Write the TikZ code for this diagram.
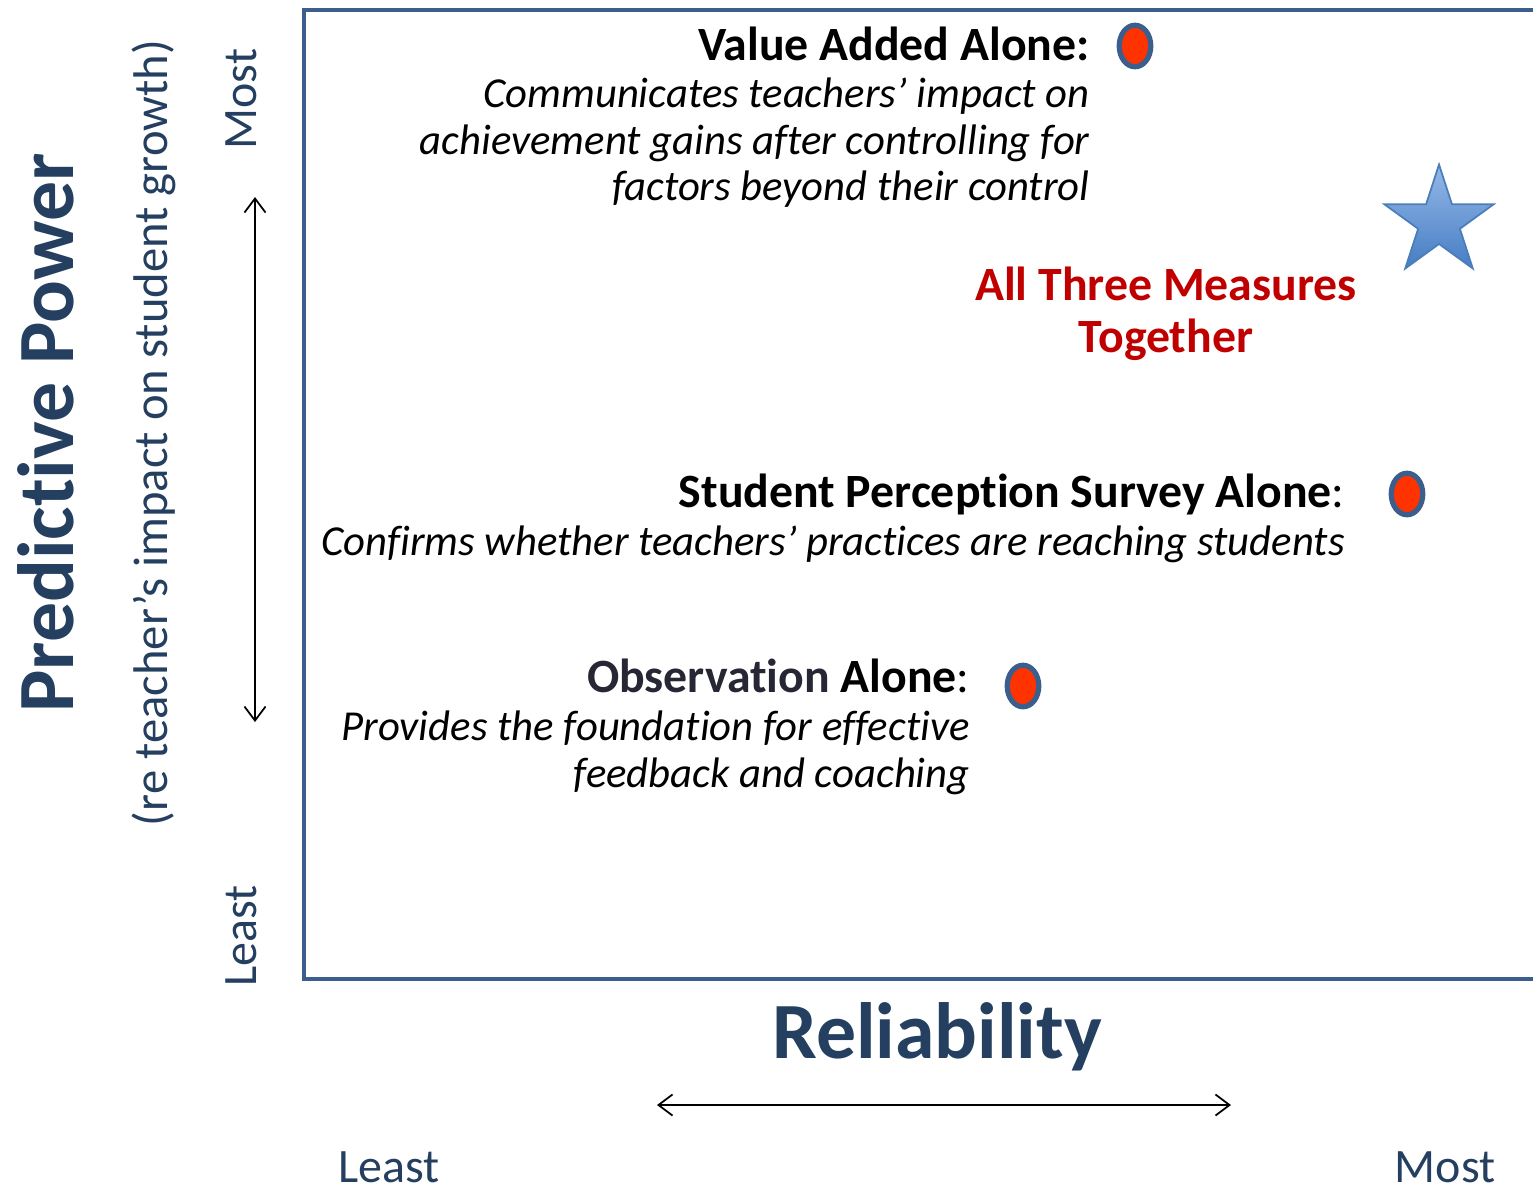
\documentclass[tikz,border=0pt]{standalone}
\usepackage{fontspec}
\setmainfont{Carlito}[Ligatures={TeX,NoCommon}]
\usetikzlibrary{arrows.meta,shapes.geometric}

\definecolor{frameblue}{RGB}{59,94,140}
\definecolor{titleblue}{RGB}{36,63,96}
\definecolor{dotred}{RGB}{255,51,0}
\definecolor{measred}{RGB}{192,0,0}
\definecolor{obsgray}{RGB}{38,38,52}
\definecolor{starline}{RGB}{74,126,187}
\definecolor{startop}{RGB}{149,185,232}
\definecolor{starbot}{RGB}{70,125,195}

\tikzset{
    heading/.style={font=\fontsize{27.2}{32}\selectfont\bfseries, anchor=base east, inner sep=0pt},
    blurb/.style={font=\fontsize{24.3}{29}\selectfont\itshape, anchor=base east, inner sep=0pt},
    reddot/.style={ellipse, draw=frameblue, line width=3pt, fill=dotred,
        minimum width=.63cm, minimum height=.83cm, inner sep=0pt},
    axislabel/.style={font=\fontsize{27.3}{32}\selectfont, text=titleblue, inner sep=0pt},
    axistitle/.style={font=\fontsize{45.4}{54}\selectfont\bfseries, text=titleblue, inner sep=0pt},
    twoway/.style={{Straight Barb[length=8pt,width=12pt]}-{Straight Barb[length=8pt,width=12pt]}, line width=1pt},
}

\begin{document}
\begin{tikzpicture}[x=0.02cm, y=-0.02cm]

    \useasboundingbox (0,0) rectangle (1533,1191);

    % open frame
    \draw[frameblue, line width=2.8pt] (1533,10) -- (304,10) -- (304,979) -- (1533,979);

    % vertical axis
    \node[axistitle, rotate=90] (power) at (46,433) {Predictive Power};
    \node[axislabel, rotate=90, font=\fontsize{27.7}{33}\selectfont] (growth) at (154,433)
        {(re teacher’s impact on student growth)};
    \node[axislabel, rotate=90] (ymost) at (241,99) {Most};
    \node[axislabel, rotate=90] (yleast) at (241,936) {Least};
    \coordinate (ytop) at (255,197);
    \coordinate (ybot) at (255,722);
    \draw[twoway] (ybot) -- (ytop);

    % horizontal axis
    \node[axistitle, anchor=base] (reli) at (937,1058) {Reliability};
    \node[axislabel] (xleast) at (389,1167) {Least};
    \node[axislabel] (xmost) at (1445,1167) {Most};
    \coordinate (xleft) at (657,1105);
    \coordinate (xright) at (1231,1105);
    \draw[twoway] (xleft) -- (xright);

    % value added
    \node[heading] (vahead) at (1090,60) {Value Added Alone:};
    \node[blurb] (va1) at (1090,107) {Communicates teachers’ impact on};
    \node[blurb] (va2) at (1090,154) {achievement gains after controlling for};
    \node[blurb] (va3) at (1090,200) {factors beyond their control};
    \node[reddot] (vadot) at (1135,46) {};

    % all three together
    \node[star, star points=5, star point ratio=2.618, minimum size=2.3cm, inner sep=0pt,
        draw=starline, line width=1pt, top color=startop, bottom color=starbot] (allstar) at (1439,222) {};
    \node[heading, anchor=base, text=measred] (all1) at (1166,300) {All Three Measures};
    \node[heading, anchor=base, text=measred] (all2) at (1166,352) {Together};

    % student survey
    \node[heading] (sphead) at (1345,507) {Student Perception Survey Alone\mdseries:};
    \node[blurb] (sp1) at (1345,555) {Confirms whether teachers’ practices are reaching students};
    \node[reddot] (spdot) at (1407,494) {};

    % observation
    \node[heading] (obhead) at (970,692) {\textcolor{obsgray}{Observation} Alone\mdseries:};
    \node[blurb] (ob1) at (970,740) {Provides the foundation for effective};
    \node[blurb] (ob2) at (970,787) {feedback and coaching};
    \node[reddot] (obdot) at (1023,686) {};

\end{tikzpicture}
\end{document}
